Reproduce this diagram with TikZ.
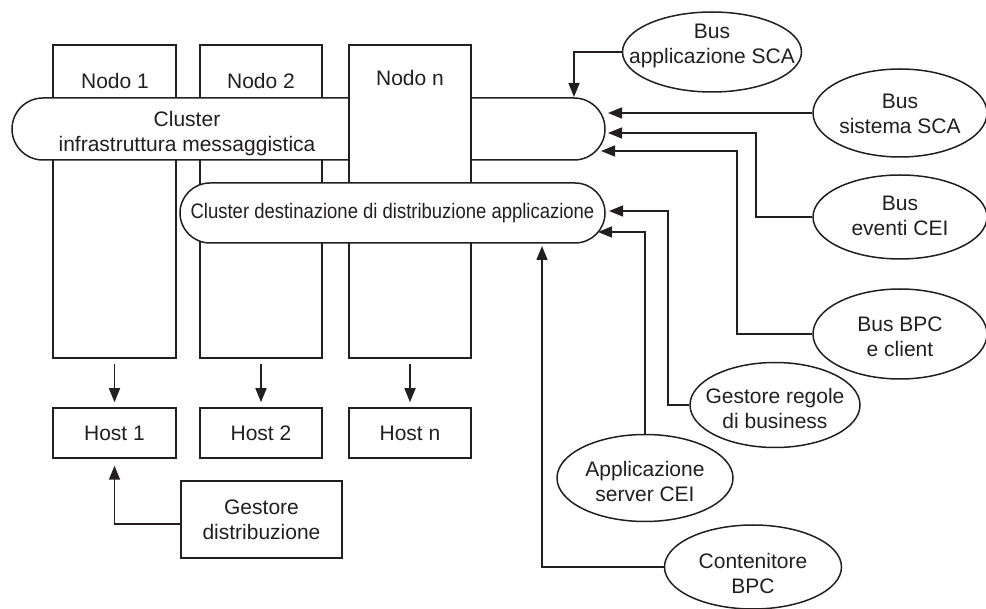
\documentclass[tikz,border=0pt]{standalone}
\usepackage{fontspec}
\setmainfont{Liberation Sans}
\newfontfamily\condfont[FakeStretch=0.88]{Liberation Sans}
\usetikzlibrary{arrows.meta,shapes.geometric,shapes.misc}
\definecolor{ink}{HTML}{231F20}
\begin{document}
\begin{tikzpicture}[x=1pt,y=-1pt,
  arr/.style={draw=ink, line width=1.5pt, -{Triangle[length=14pt,width=11pt]}},
  box/.style={rectangle, draw=ink, line width=1.5pt, fill=white, inner sep=0pt},
  stad/.style={rounded rectangle, draw=ink, line width=1.5pt, fill=white, inner sep=0pt},
  bub/.style={ellipse, draw=ink, line width=1.5pt, fill=white, inner sep=0pt},
  lbl/.style={font=\fontsize{21}{25}\selectfont, text=ink, align=center, inner sep=0pt}]
\useasboundingbox (0,0) rectangle (986,609);
% node boxes
\node[box, minimum width=123pt, minimum height=313pt] (n1) at (114.5,201.5) {};
\node[box, minimum width=122pt, minimum height=313pt] (n2) at (261,201.5) {};
\node[lbl] (n1t) at (115,81) {Nodo 1};
\node[lbl] (n2t) at (261,81) {Nodo 2};
% messaging cluster
\node[stad, minimum width=593pt, minimum height=62pt] (st1) at (308.5,129) {};
\node[lbl] (st1t) at (187,134) {Cluster\\infrastruttura messaggistica};
% node n above
\node[box, minimum width=122pt, minimum height=313pt] (nn) at (410,201.5) {};
\node[lbl] (nnt) at (410,78) {Nodo n};
% application cluster
\node[stad, minimum width=425pt, minimum height=60pt] (st2) at (392.5,213) {};
\node[lbl] (st2t) at (392.5,213) {\condfont Cluster destinazione di distribuzione applicazione};
% hosts
\node[box, minimum width=123pt, minimum height=50pt] (h1) at (114.5,433) {};
\node[box, minimum width=122pt, minimum height=50pt] (h2) at (261,433) {};
\node[box, minimum width=122pt, minimum height=50pt] (hn) at (410,433) {};
\node[lbl] (h1t) at (h1) {Host 1};
\node[lbl] (h2t) at (h2) {Host 2};
\node[lbl] (hnt) at (hn) {Host n};
% deployment manager
\node[box, minimum width=161pt, minimum height=77pt] (gd) at (261.5,519.5) {};
\node[lbl] (gdt) at (gd) {Gestore\\distribuzione};
% ellipses
\node[bub, minimum width=179pt, minimum height=80pt] (bapp) at (712,52) {};
\node[lbl] (bappt) at (712,46) {Bus\\applicazione SCA};
\node[bub, minimum width=174pt, minimum height=88pt] (bsys) at (900,113) {};
\node[lbl] (bsyst) at (900,114) {Bus\\sistema SCA};
\node[bub, minimum width=174pt, minimum height=84pt] (bcei) at (900,217) {};
\node[lbl] (bceit) at (900,216) {Bus\\eventi CEI};
\node[bub, minimum width=174pt, minimum height=90pt] (bbpc) at (900,334) {};
\node[lbl] (bbpct) at (900,337) {Bus BPC\\e client};
\node[bub, minimum width=170pt, minimum height=85pt] (greg) at (775,405) {};
\node[lbl] (gregt) at (775,408) {Gestore regole\\di business};
\node[bub, minimum width=176pt, minimum height=87pt] (acei) at (645,478) {};
\node[lbl] (aceit) at (645,481) {Applicazione\\server CEI};
\node[bub, minimum width=177pt, minimum height=84pt] (cbpc) at (753,567) {};
\node[lbl] (cbpct) at (753,573) {Contenitore\\BPC};
% connector coordinates
\coordinate (a1) at (574,97);
\coordinate (t1) at (608,113);
\coordinate (k2) at (756,133);
\coordinate (t2) at (608,133);
\coordinate (k3) at (737,151);
\coordinate (t3) at (601,151);
\coordinate (k4) at (668,211);
\coordinate (t4) at (609,211);
\coordinate (t5) at (598,232);
\coordinate (t6) at (542,246);
\coordinate (g0) at (181,524);
% connectors
\draw[arr] (bapp.west) -| (a1);
\draw[arr] (bsys.west) -- (t1);
\draw[arr] (bcei.west) -| (k2) -- (t2);
\draw[arr] (bbpc.west) -| (k3) -- (t3);
\draw[arr] (greg.west) -| (k4) -- (t4);
\draw[arr] (acei.north) |- (t5);
\draw[arr] (cbpc.west) -| (t6);
\draw[arr, shorten <=5pt, shorten >=5pt] (n1.south) -- (h1.north);
\draw[arr, shorten <=5pt, shorten >=5pt] (n2.south) -- (h2.north);
\draw[arr, shorten <=5pt, shorten >=5pt] (nn.south) -- (hn.north);
\draw[arr, shorten >=7pt] (g0) -| (h1.south);
\end{tikzpicture}
\end{document}
